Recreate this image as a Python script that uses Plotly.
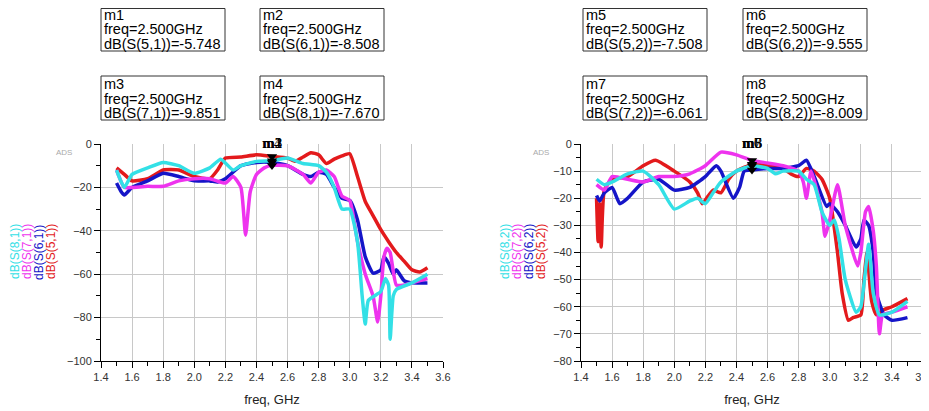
import plotly.graph_objects as go

# ---------------- data (left plot: S(x,1)) ----------------
f51 = [1.5, 1.55, 1.6, 1.7, 1.8, 1.9, 2.0, 2.1, 2.15, 2.2, 2.3, 2.4, 2.5, 2.6, 2.65, 2.7, 2.75, 2.8, 2.85, 2.9, 2.95, 3.0, 3.05, 3.1, 3.15, 3.2, 3.25, 3.3, 3.35, 3.4, 3.45, 3.5]
s51 = [-11, -14, -17, -16, -12, -12, -15, -16, -12, -6.5, -6, -5, -5.748, -6.5, -8, -6, -4, -5, -9, -7, -5.5, -4.5, -15, -26.5, -33, -39.5, -45, -50, -54, -58, -59, -57]

f61 = [1.5, 1.53, 1.55, 1.6, 1.7, 1.8, 1.9, 2.0, 2.1, 2.15, 2.2, 2.3, 2.4, 2.5, 2.6, 2.7, 2.75, 2.8, 2.85, 2.9, 2.95, 3.0, 3.05, 3.1, 3.15, 3.2, 3.22, 3.25, 3.28, 3.3, 3.35, 3.4, 3.5]
s61 = [-18, -22, -23.5, -20, -17, -13.5, -15, -17, -17, -17.5, -16, -10, -8.5, -8.508, -10, -14, -15, -13, -14, -20, -25, -26, -35, -52, -59.5, -58, -52, -55, -60, -58, -63, -64, -64]

f71 = [1.5, 1.55, 1.6, 1.7, 1.8, 1.9, 2.0, 2.1, 2.2, 2.25, 2.3, 2.33, 2.36, 2.4, 2.45, 2.5, 2.6, 2.7, 2.75, 2.8, 2.85, 2.9, 2.95, 3.0, 3.05, 3.1, 3.15, 3.18, 3.2, 3.22, 3.24, 3.26, 3.3, 3.35, 3.4, 3.5]
s71 = [-12, -20, -20, -19.5, -19.5, -17, -16, -16, -18, -15, -20, -42, -22, -14, -11, -9.851, -10, -14, -18, -13, -12, -15, -24, -26, -45, -60, -70, -82, -70, -52, -48, -50, -65, -65, -64, -62]

f81 = [1.5, 1.55, 1.6, 1.7, 1.8, 1.9, 2.0, 2.1, 2.17, 2.25, 2.3, 2.4, 2.5, 2.6, 2.7, 2.8, 2.85, 2.9, 2.95, 3.0, 3.05, 3.08, 3.1, 3.12, 3.2, 3.23, 3.25, 3.26, 3.28, 3.3, 3.4, 3.5]
s81 = [-12, -20, -14, -11, -8.5, -10, -13.5, -11, -7, -12, -10, -8, -7.670, -6.5, -9, -10, -13, -20, -30, -30, -45, -70, -83, -72, -68, -62, -65, -90, -70, -67, -64, -60]

# ---------------- data (right plot: S(x,2)) ----------------
f52 = [1.5, 1.51, 1.52, 1.53, 1.55, 1.6, 1.7, 1.8, 1.88, 2.0, 2.1, 2.15, 2.18, 2.22, 2.25, 2.3, 2.35, 2.4, 2.5, 2.6, 2.7, 2.75, 2.8, 2.85, 2.9, 2.95, 3.0, 3.05, 3.08, 3.12, 3.15, 3.2, 3.22, 3.24, 3.26, 3.27, 3.3, 3.35, 3.4, 3.5]
s52 = [-20, -36, -22, -38, -17, -13, -12, -8, -6, -10, -14, -18, -22, -19, -17, -18, -13, -10, -7.508, -8, -9, -11, -12, -9, -10, -13, -20, -40, -55, -65, -64, -63, -50, -40, -53, -58, -63, -61, -60, -57]

f62 = [1.5, 1.52, 1.55, 1.6, 1.65, 1.7, 1.8, 1.9, 2.0, 2.1, 2.2, 2.27, 2.3, 2.38, 2.42, 2.45, 2.5, 2.6, 2.7, 2.8, 2.85, 2.9, 2.98, 3.0, 3.05, 3.1, 3.17, 3.2, 3.22, 3.25, 3.28, 3.3, 3.35, 3.4, 3.5]
s62 = [-19, -21, -18, -16, -22, -20, -14, -13, -17, -16, -12, -8, -10, -20, -16, -10, -9.555, -9, -9, -8, -6, -12, -23, -22, -25, -30, -38, -35, -28, -30, -40, -55, -63, -65, -64]

f72 = [1.5, 1.55, 1.6, 1.7, 1.8, 1.9, 2.0, 2.1, 2.2, 2.3, 2.4, 2.5, 2.6, 2.7, 2.8, 2.83, 2.85, 2.88, 2.95, 2.97, 3.0, 3.05, 3.1, 3.18, 3.2, 3.23, 3.25, 3.28, 3.3, 3.32, 3.34, 3.4, 3.5]
s72 = [-15, -17, -12, -13, -14, -12, -12, -11, -8, -3, -4, -6.061, -7, -8, -10, -14, -20, -10, -25, -34, -28, -15, -30, -45, -40, -25, -23, -32, -45, -70, -63, -62, -60]

f82 = [1.5, 1.55, 1.6, 1.7, 1.8, 1.9, 2.0, 2.1, 2.15, 2.2, 2.25, 2.3, 2.4, 2.5, 2.6, 2.65, 2.7, 2.8, 2.85, 2.9, 2.95, 3.0, 3.03, 3.06, 3.1, 3.17, 3.2, 3.25, 3.28, 3.32, 3.4, 3.5]
s82 = [-13, -15, -14, -11, -10, -15, -24, -21, -20, -22, -18, -14, -10, -8.009, -9, -11, -10, -10, -13, -15, -25, -30, -28, -35, -50, -62, -60, -37, -55, -63, -62, -58]

left_names = ["dB(S(5,1))", "dB(S(6,1))", "dB(S(7,1))", "dB(S(8,1))"]
right_names = ["dB(S(5,2))", "dB(S(6,2))", "dB(S(7,2))", "dB(S(8,2))"]
marker_freq = 2.5
left_marker_vals = [-5.748, -8.508, -9.851, -7.670]
right_marker_vals = [-7.508, -9.555, -6.061, -8.009]
left_marker_names = ["m1", "m2", "m3", "m4"]
right_marker_names = ["m5", "m6", "m7", "m8"]

colors = ["#e31a1c", "#1515c8", "#ee33ee", "#33e0e6"]

W, H = 929, 411
OX, OY = 8, 8   # page body margin offset
def px(x):
    return (x - OX) / W
def py(y):
    return 1 - (y - OY) / H

fig = go.Figure()

left = [(f51, s51), (f61, s61), (f71, s71), (f81, s81)]
right = [(f52, s52), (f62, s62), (f72, s72), (f82, s82)]

for (fx, sy), name, c in zip(left, left_names, colors):
    fig.add_trace(go.Scatter(x=fx, y=sy, mode="lines", name=name,
                             line=dict(color=c, width=3.5, shape="spline", smoothing=0.5),
                             xaxis="x", yaxis="y", showlegend=False))
for (fx, sy), name, c in zip(right, right_names, colors):
    fig.add_trace(go.Scatter(x=fx, y=sy, mode="lines", name=name,
                             line=dict(color=c, width=3.5, shape="spline", smoothing=0.5),
                             xaxis="x2", yaxis="y2", showlegend=False))

# marker triangles
fig.add_trace(go.Scatter(x=[marker_freq] * 4, y=left_marker_vals, mode="markers",
                         marker=dict(symbol="triangle-down", size=9, color="black"),
                         xaxis="x", yaxis="y", showlegend=False))
fig.add_trace(go.Scatter(x=[marker_freq] * 4, y=right_marker_vals, mode="markers",
                         marker=dict(symbol="triangle-down", size=9, color="black"),
                         xaxis="x2", yaxis="y2", showlegend=False))

tickfont = dict(family="Liberation Sans, Arial", size=11, color="#333333")
xcommon = dict(range=[1.4, 3.6], dtick=0.2, tick0=1.4, tickformat=".1f", automargin=False,
               ticklabeloverflow="allow",
               showgrid=True, gridcolor="#c8c8c8", gridwidth=1,
               showline=True, linecolor="black", linewidth=1,
               ticks="outside", ticklen=6, tickcolor="black",
               minor=dict(dtick=0.1, ticks="outside", ticklen=4, tickcolor="black", showgrid=False),
               zeroline=False, tickfont=tickfont,
               title=dict(text="freq, GHz", font=dict(family="Liberation Sans, Arial", size=13, color="#222"), standoff=12))
ycommon = dict(showgrid=True, gridcolor="#c8c8c8", gridwidth=1, automargin=False,
               showline=True, linecolor="black", linewidth=1,
               ticks="outside", ticklen=6, tickcolor="black",
               zeroline=False, tickfont=tickfont)

ydom = [py(361), py(144)]
fig.update_layout(
    width=W, height=H, margin=dict(l=0, r=0, t=0, b=0, autoexpand=False),
    paper_bgcolor="white", plot_bgcolor="white",
    xaxis=dict(domain=[px(101), px(443)], anchor="y", **xcommon),
    yaxis=dict(domain=ydom, anchor="x", range=[-100, 0], dtick=20,
               minor=dict(dtick=10, ticks="outside", ticklen=4, tickcolor="black", showgrid=False),
               **ycommon),
    xaxis2=dict(domain=[px(581), px(923)], anchor="y2", **xcommon),
    yaxis2=dict(domain=ydom, anchor="x2", range=[-80, 0], dtick=10,
                minor=dict(dtick=5, ticks="outside", ticklen=4, tickcolor="black", showgrid=False),
                **ycommon),
)

ann = []
shapes = []
boxfont = dict(family="Liberation Sans, Arial", size=14.5, color="black")

def add_box(x0, y0, name, label, val):
    top = max(y0, OY + 0.5)
    shapes.append(dict(type="rect", xref="paper", yref="paper",
                       x0=px(x0), x1=px(x0 + 124), y0=py(y0 + 44), y1=py(top),
                       line=dict(color="#333333", width=1)))
    lines = [name, "freq=%.3fGHz" % marker_freq, "%s=%.3f" % (label, val)]
    for i, t in enumerate(lines):
        ann.append(dict(x=px(x0 + 1), y=py(y0 + 8 + 14.5 * i), xref="paper", yref="paper",
                        text=t, showarrow=False, xanchor="left", yanchor="middle",
                        font=boxfont))

box_pos_left = [(101, 7), (260, 7), (101, 76), (260, 76)]
box_pos_right = [(583, 7), (743, 7), (583, 76), (743, 76)]
for (bx, by), n, lab, v in zip(box_pos_left, left_marker_names, left_names, left_marker_vals):
    add_box(bx, by, n, lab, v)
for (bx, by), n, lab, v in zip(box_pos_right, right_marker_names, right_names, right_marker_vals):
    add_box(bx, by, n, lab, v)

# marker labels on plot
for n in left_marker_names:
    ann.append(dict(x=marker_freq, y=0, xref="x", yref="y", text=n, showarrow=False,
                    yanchor="middle", yshift=1,
                    font=dict(family="Liberation Serif", size=15, color="black")))
for n in right_marker_names:
    ann.append(dict(x=marker_freq, y=0, xref="x2", yref="y2", text=n, showarrow=False,
                    yanchor="middle", yshift=1,
                    font=dict(family="Liberation Serif", size=15, color="black")))

# rotated y "legend" labels
legend_order = [3, 2, 1, 0]  # cyan, magenta, blue, red from left to right
left_x = [15, 27, 39, 51]
right_x = [505, 517, 529, 541]
for xi, idx in zip(left_x, legend_order):
    ann.append(dict(x=px(xi), y=py(252), xref="paper", yref="paper", text=left_names[idx],
                    textangle=-90, showarrow=False, xanchor="center", yanchor="middle",
                    font=dict(family="Liberation Sans, Arial", size=12, color=colors[idx])))
for xi, idx in zip(right_x, legend_order):
    ann.append(dict(x=px(xi), y=py(252), xref="paper", yref="paper", text=right_names[idx],
                    textangle=-90, showarrow=False, xanchor="center", yanchor="middle",
                    font=dict(family="Liberation Sans, Arial", size=12, color=colors[idx])))

# ADS labels
for xc in (54, 541):
    ann.append(dict(x=px(xc), y=py(152), xref="paper", yref="paper", text="ADS",
                    showarrow=False, font=dict(family="Liberation Sans, Arial", size=8, color="#aaaaaa")))

fig.update_layout(annotations=ann, shapes=shapes)
fig.write_html("out.html")
